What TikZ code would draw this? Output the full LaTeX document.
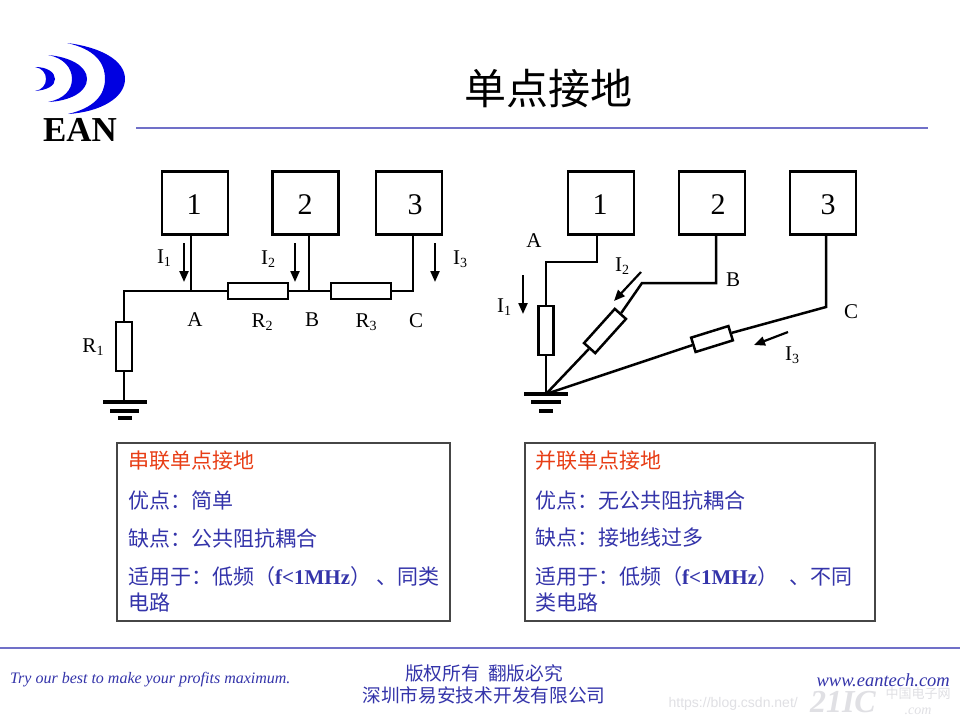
\documentclass[tikz,border=0pt]{standalone}
\usepackage{fontspec}
\setmainfont{Liberation Serif}
\newfontfamily\cjk{Noto Sans CJK SC}
\newfontfamily\latf{Liberation Serif}
\setsansfont{Liberation Sans}
\usetikzlibrary{arrows.meta}
\definecolor{logoblue}{RGB}{0,0,225}
\definecolor{rulecol}{RGB}{112,112,200}
\definecolor{txtblue}{RGB}{52,52,170}
\definecolor{txtred}{RGB}{232,62,22}
\definecolor{edgecol}{RGB}{70,70,70}
\definecolor{markcol}{RGB}{224,224,228}
\newcommand{\lab}[2]{#1\raisebox{-0.3ex}{\fontsize{14}{14}\selectfont #2}}
\newcommand{\lat}[1]{{\latf\fontsize{21}{21}\selectfont\bfseries #1}}
\tikzset{
  x=1pt,y=-1pt,
  wire/.style={line width=2.5pt,line join=miter},
  cur/.style={line width=2.2pt,-{Triangle[length=11pt,width=9pt]}},
  unit/.style={draw,line width=2.5pt,fill=white,minimum width=66pt,minimum height=63pt,inner sep=0pt},
  res/.style={draw,line width=2.5pt,fill=white,inner sep=0pt,minimum width=60pt,minimum height=16pt},
  num/.style={font=\fontsize{30}{30}\selectfont,inner sep=0pt},
  lbl/.style={font=\fontsize{21}{21}\selectfont,inner sep=0pt},
  gndbar/.style={line width=3.2pt},
  panel/.style={draw=edgecol,line width=1.6pt,fill=white,inner sep=0pt},
  ptxt/.style={anchor=west,inner sep=0pt,text=txtblue,font=\cjk\fontsize{21}{21}\selectfont},
  phead/.style={ptxt,text=txtred},
  rulel/.style={line width=1.6pt,draw=rulecol},
  foot/.style={inner sep=0pt,text=txtblue,font=\cjk\fontsize{18.7}{18.7}\selectfont},
  footi/.style={inner sep=0pt,text=txtblue,font=\itshape\fontsize{16}{16}\selectfont},
  footw/.style={inner sep=0pt,text=txtblue,font=\itshape\fontsize{18.5}{18.5}\selectfont},
  wmark/.style={inner sep=0pt,text=markcol}
}
\begin{document}
\begin{tikzpicture}
\useasboundingbox[fill=white] (0,0) rectangle (960,720);
% logo
\fill[logoblue] (67,43) .. controls (100,47) and (125,60) .. (125,79) .. controls (125,98) and (100,112) .. (68,114) .. controls (94,108) and (105,95) .. (105,79) .. controls (105,62) and (94,49) .. cycle;
\fill[logoblue] (48,55) .. controls (70,57) and (87,66) .. (87,79) .. controls (87,92) and (70,101) .. (48,102) .. controls (64,99) and (72,90) .. (72,79) .. controls (72,68) and (64,58) .. cycle;
\fill[logoblue] (35,67) .. controls (47,67) and (55,72) .. (55,79) .. controls (55,86) and (47,90) .. (35,91) .. controls (42,90) and (46,85) .. (46,79) .. controls (46,73) and (42,68) .. cycle;
\node[inner sep=0pt,font=\bfseries\fontsize{35}{35}\selectfont] (ean) at (80,130) {EAN};
% title and rules
\node[inner sep=0pt,font=\cjk\fontsize{42}{42}\selectfont] (title) at (548,89) {单点接地};
\coordinate (r1a) at (136,128); \coordinate (r1b) at (928,128);
\coordinate (r2a) at (0,648); \coordinate (r2b) at (960,648);
\draw[rulel] (r1a) -- (r1b);
\draw[rulel] (r2a) -- (r2b);
% left circuit
\node[unit] (la) at (195,203) {};
\node[unit] (lb) at (305.5,203) {};
\node[unit] (lc) at (409,203) {};
\node[num] (lan) at (194,205) {1};
\node[num] (lbn) at (305,205) {2};
\node[num] (lcn) at (415,205) {3};
\coordinate (ja) at (191,291);
\coordinate (jb) at (309,291);
\coordinate (jc) at (413,291);
\coordinate (jl) at (124,291);
\coordinate (lg) at (124,402);
\node[res] (r2) at (258,291) {};
\node[res] (r3) at (361,291) {};
\node[res,rotate=90,minimum width=49pt] (r1) at (124,346.5) {};
\draw[wire] (la.south -| ja) -- (ja);
\draw[wire] (lb.south -| jb) -- (jb);
\draw[wire] (lc.south -| jc) -- (jc) -- (r3.east);
\draw[wire] (r3.west) -- (r2.east);
\draw[wire] (r2.west) -- (jl) -- (r1.east);
\draw[wire] (r1.west) -- (lg);
\coordinate (lg1a) at (103,402); \coordinate (lg1b) at (147,402);
\coordinate (lg2a) at (110,411); \coordinate (lg2b) at (139,411);
\coordinate (lg3a) at (118,418); \coordinate (lg3b) at (132,418);
\draw[gndbar] (lg1a) -- (lg1b);
\draw[gndbar] (lg2a) -- (lg2b);
\draw[gndbar] (lg3a) -- (lg3b);
\coordinate (ia1) at (184,243); \coordinate (ia2) at (184,282);
\coordinate (ib1) at (295,243); \coordinate (ib2) at (295,282);
\coordinate (ic1) at (435,243); \coordinate (ic2) at (435,282);
\draw[cur] (ia1) -- (ia2);
\draw[cur] (ib1) -- (ib2);
\draw[cur] (ic1) -- (ic2);
\node[lbl] (li1) at (164,258) {\lab{I}{1}};
\node[lbl] (li2) at (268,259) {\lab{I}{2}};
\node[lbl] (li3) at (460,259) {\lab{I}{3}};
\node[lbl] (lA) at (195,320) {A};
\node[lbl] (lR2) at (262,322) {\lab{R}{2}};
\node[lbl] (lB) at (312,320) {B};
\node[lbl] (lR3) at (366,322) {\lab{R}{3}};
\node[lbl] (lC) at (416,321) {C};
\node[lbl] (lR1) at (93,347) {\lab{R}{1}};
% right circuit
\node[unit] (ra) at (601,203) {};
\node[unit] (rb) at (712,203) {};
\node[unit] (rc) at (823,203) {};
\node[num] (ran) at (600,205) {1};
\node[num] (rbn) at (718,205) {2};
\node[num] (rcn) at (828,205) {3};
\coordinate (rg) at (546,394);
\coordinate (ka) at (597,262);
\coordinate (kb) at (546,262);
\coordinate (kc) at (716,283);
\coordinate (kd) at (642,283);
\coordinate (ke) at (826,307);
\node[res,rotate=90,minimum width=49pt,minimum height=15pt] (q1) at (546,330.5) {};
\node[res,rotate=48,minimum width=46pt,minimum height=15pt] (q2) at (605,331) {};
\node[res,rotate=17.3,minimum width=39pt,minimum height=15pt] (q3) at (712,339) {};
\draw[wire] (ra.south -| ka) -- (ka) -- (kb) -- (q1.east);
\draw[wire] (q1.west) -- (rg);
\draw[wire] (rb.south -| kc) -- (kc) -- (kd) -- (q2.east);
\draw[wire] (q2.west) -- (rg);
\draw[wire] (rc.south -| ke) -- (ke) -- (q3.east);
\draw[wire] (q3.west) -- (rg);
\coordinate (rg1a) at (524,394); \coordinate (rg1b) at (568,394);
\coordinate (rg2a) at (531,402); \coordinate (rg2b) at (561,402);
\coordinate (rg3a) at (539,411); \coordinate (rg3b) at (553,411);
\draw[gndbar] (rg1a) -- (rg1b);
\draw[gndbar] (rg2a) -- (rg2b);
\draw[gndbar] (rg3a) -- (rg3b);
\coordinate (ja1) at (523,275); \coordinate (ja2) at (523,314);
\coordinate (jb1) at (641,272); \coordinate (jb2) at (614,301);
\coordinate (jc1) at (788,332); \coordinate (jc2) at (754,345);
\draw[cur] (ja1) -- (ja2);
\draw[cur] (jb1) -- (jb2);
\draw[cur] (jc1) -- (jc2);
\node[lbl] (rA) at (534,241) {A};
\node[lbl] (ri2) at (622,266) {\lab{I}{2}};
\node[lbl] (rB) at (733,280) {B};
\node[lbl] (ri1) at (504,307) {\lab{I}{1}};
\node[lbl] (rC) at (851,312) {C};
\node[lbl] (ri3) at (792,355) {\lab{I}{3}};
% panels
\node[panel,minimum width=333pt,minimum height=178pt] (pl) at (283.5,532) {};
\node[phead] (pl1) at (128,461) {串联单点接地};
\node[ptxt] (pl2) at (128,500) {优点：简单};
\node[ptxt] (pl3) at (128,538) {缺点：公共阻抗耦合};
\node[ptxt] (pl4) at (128,577) {适用于：低频（\lat{f<1MHz}）\hspace{5pt}、同类};
\node[ptxt] (pl5) at (128,602) {电路};
\node[panel,minimum width=350pt,minimum height=178pt] (pr) at (700,532) {};
\node[phead] (pr1) at (535,461) {并联单点接地};
\node[ptxt] (pr2) at (535,500) {优点：无公共阻抗耦合};
\node[ptxt] (pr3) at (535,538) {缺点：接地线过多};
\node[ptxt] (pr4) at (535,577) {适用于：低频（\lat{f<1MHz}） \hspace{7pt}、不同};
\node[ptxt] (pr5) at (535,602) {类电路};
% footer
\node[wmark,font=\sffamily\fontsize{14}{14}\selectfont,anchor=east] (w1) at (798,704) {https://blog.csdn.net/};
\node[wmark,font=\bfseries\itshape\fontsize{32}{32}\selectfont,anchor=east] (w2) at (876,702) {21IC};
\node[wmark,font=\cjk\fontsize{13}{13}\selectfont] (w3) at (918,694) {中国电子网};
\node[wmark,font=\itshape\fontsize{14}{14}\selectfont] (w4) at (918,711) {.com};
\node[footi,anchor=west] (f1) at (10,680) {Try our best to make your profits maximum.};
\node[foot] (f2) at (484,673) {版权所有\ \ 翻版必究};
\node[foot] (f3) at (484,695) {深圳市易安技术开发有限公司};
\node[footw,anchor=east] (f4) at (950,680) {www.eantech.com};
\end{tikzpicture}
\end{document}
